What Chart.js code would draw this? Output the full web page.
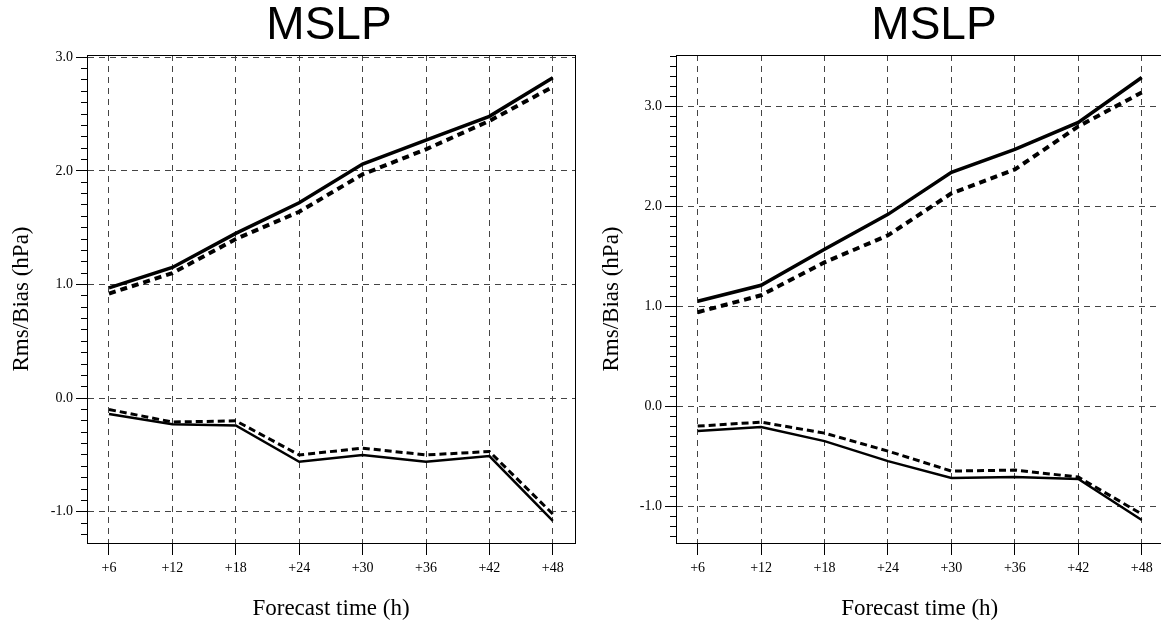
<!DOCTYPE html>
<html>
<head>
<meta charset="utf-8">
<script src="https://cdn.jsdelivr.net/npm/chart.js@4/dist/chart.umd.min.js"></script>
<style>
  html, body { margin: 0; padding: 0; background: #fff; overflow: hidden; }
  body { width: 1161px; height: 626px; position: relative; }
  canvas { position: absolute; top: 0; }
</style>
</head>
<body>
<canvas id="left" width="658" height="626" style="left:0px"></canvas>
<canvas id="right" width="688" height="626" style="left:590px"></canvas>
<script>
// forecast lead times (h)
const hours = [6, 12, 18, 24, 30, 36, 42, 48];
const yTicks = [-1, 0, 1, 2, 3];

// left panel
const leftRmsSolid = [0.97, 1.15, 1.45, 1.72, 2.06, 2.27, 2.48, 2.82];
const leftRmsDashed = [0.92, 1.10, 1.40, 1.64, 1.97, 2.19, 2.44, 2.74];
const leftBiasSolid = [-0.14, -0.23, -0.24, -0.56, -0.50, -0.56, -0.51, -1.08];
const leftBiasDashed = [-0.10, -0.21, -0.20, -0.50, -0.44, -0.50, -0.47, -1.02];

// right panel
const rightRmsSolid = [1.05, 1.21, 1.57, 1.92, 2.34, 2.57, 2.84, 3.29];
const rightRmsDashed = [0.94, 1.11, 1.44, 1.71, 2.13, 2.37, 2.80, 3.14];
const rightBiasSolid = [-0.25, -0.21, -0.35, -0.55, -0.72, -0.71, -0.73, -1.14];
const rightBiasDashed = [-0.20, -0.16, -0.27, -0.45, -0.65, -0.64, -0.71, -1.08];

const serif = "'Liberation Serif', 'Times New Roman', serif";
const sans = "'Liberation Sans', Arial, sans-serif";
const gridColor = "#444";

function pts(values) {
  return values.map((v, i) => ({ x: hours[i], y: v }));
}

function line(values, width, dash) {
  return {
    data: pts(values),
    borderColor: "#000",
    borderWidth: width,
    borderDash: dash,
    pointRadius: 0,
    tension: 0,
    fill: false,
  };
}

function makeChart(id, p) {
  const ctx = document.getElementById(id).getContext("2d");
  return new Chart(ctx, {
    type: "line",
    data: {
      datasets: [
        line(p.rmsSolid, 3.5, []),
        line(p.rmsDashed, 4, [7, 5]),
        line(p.biasSolid, 2.5, []),
        line(p.biasDashed, 3, [7, 4]),
      ],
    },
    options: {
      responsive: false,
      animation: false,
      layout: { padding: 0 },
      scales: {
        x: {
          type: "linear",
          position: "bottom",
          min: p.xMin,
          max: p.xMax,
          afterFit: (s) => { s.height = 83; },
          ticks: {
            stepSize: 6,
            includeBounds: false,
            padding: 5,
            color: "#000",
            font: { family: serif, size: 14 },
            callback: (v) => "+" + v,
          },
          grid: {
            color: gridColor,
            lineWidth: 1,
            tickLength: 12,
            tickColor: "#000",
            tickBorderDash: [],
          },
          border: { display: true, color: "#000", width: 1, dash: [6, 5] },
          title: {
            display: true,
            text: "Forecast time (h)",
            color: "#000",
            font: { family: serif, size: 23, lineHeight: 1 },
            padding: { top: 0, bottom: 6 },
          },
        },
        y: {
          type: "linear",
          position: "left",
          min: p.yMin,
          max: p.yMax,
          weight: 0,
          afterFit: (s) => { s.width = p.yWidth; },
          afterBuildTicks: (s) => { s.ticks = yTicks.map((v) => ({ value: v })); },
          ticks: {
            padding: 3,
            color: "#000",
            font: { family: serif, size: 14 },
            callback: (v) => v.toFixed(1),
          },
          grid: {
            color: gridColor,
            lineWidth: 1,
            tickLength: 11,
            tickColor: "#000",
            tickBorderDash: [],
          },
          border: { display: true, color: "#000", width: 1, dash: [6, 5] },
          title: {
            display: true,
            text: "Rms/Bias (hPa)",
            color: "#000",
            font: { family: serif, size: 23, lineHeight: 1 },
            padding: { top: 10, bottom: 0 },
          },
        },
        // minor ticks every 0.1
        yMinor: {
          type: "linear",
          position: "left",
          min: p.yMin,
          max: p.yMax,
          weight: -1,
          afterFit: (s) => { s.width = 0; },
          ticks: { display: false, stepSize: 0.1, includeBounds: false },
          grid: {
            drawOnChartArea: false,
            tickLength: 6,
            tickColor: "#000",
            tickBorderDash: [],
          },
          border: { display: false },
        },
        // top and right frame lines
        xTop: {
          type: "linear",
          position: "top",
          min: 0,
          max: 1,
          afterFit: (s) => { s.height = 0; },
          ticks: { display: false },
          grid: { drawOnChartArea: false, drawTicks: false },
          border: { display: true, color: "#000", width: 1 },
        },
        yRight: {
          type: "linear",
          position: "right",
          min: 0,
          max: 1,
          afterFit: (s) => { s.width = p.rightWidth; },
          ticks: { display: false },
          grid: { drawOnChartArea: false, drawTicks: false },
          border: { display: true, color: "#000", width: 1 },
        },
      },
      plugins: {
        legend: { display: false },
        tooltip: { enabled: false },
        title: {
          display: true,
          text: "MSLP",
          color: "#000",
          font: { family: sans, size: 46, weight: "normal", lineHeight: 1 },
          padding: { top: 3, bottom: 6 },
        },
      },
    },
  });
}

makeChart("left", {
  rmsSolid: leftRmsSolid,
  rmsDashed: leftRmsDashed,
  biasSolid: leftBiasSolid,
  biasDashed: leftBiasDashed,
  xMin: 3.92,
  xMax: 50.1,
  yMin: -1.275,
  yMax: 3.02,
  yWidth: 87,
  rightWidth: 83,
});

makeChart("right", {
  rmsSolid: rightRmsSolid,
  rmsDashed: rightRmsDashed,
  biasSolid: rightBiasSolid,
  biasDashed: rightBiasDashed,
  xMin: 3.95,
  xMax: 50.05,
  yMin: -1.37,
  yMax: 3.515,
  yWidth: 86,
  rightWidth: 114.6,
});
</script>
</body>
</html>
